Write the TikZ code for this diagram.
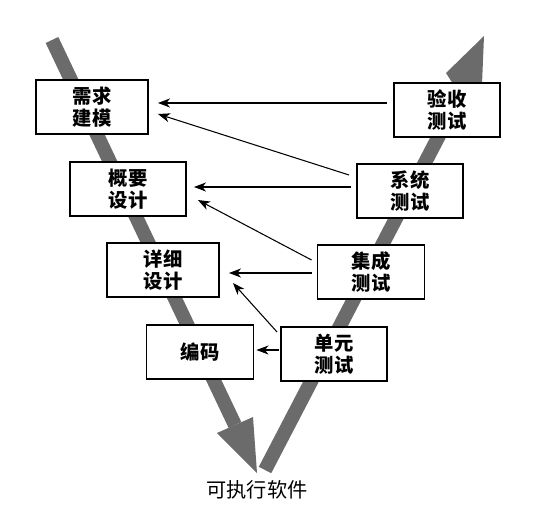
\documentclass[tikz,border=0pt]{standalone}
\usepackage{fontspec}
\setmainfont{Noto Sans CJK SC}
\usetikzlibrary{arrows.meta}
\tikzset{
  stage/.style={draw,line width=1.1pt,fill=white,minimum width=#1,minimum height=1.08cm,
    inner sep=0pt,align=center,font=\bfseries\fontsize{11pt}{12.5pt}\selectfont},
  link/.style={-{Stealth[length=0.24cm,width=0.18cm,inset=0.07cm]},line width=0.6pt},
  band/.style={line width=0.28cm,draw=black!58}
}
\begin{document}
\begin{tikzpicture}[x=0.02cm,y=-0.02cm]
\useasboundingbox (0,0) rectangle (543,527);
% gray V
\draw[band](52,40)--(235,425);
\fill[black!58](217,433)--(257,473)--(253,417)--cycle;
\draw[band](265,470)--(468,80);
\fill[black!58](484,36)--(446,73)--(453,84)--(482,84)--cycle;
% stages
\node[stage=2.24cm] (req) at (92,107) {需求\\建模};
\node[stage=2.32cm] (outline) at (128,189) {概要\\设计};
\node[stage=2.24cm] (detail) at (163,270) {详细\\设计};
\node[stage=2.14cm] (code) at (200,352) {编码};
\node[stage=2.12cm] (accept) at (447,110) {验收\\测试};
\node[stage=2.12cm] (sys) at (410,191) {系统\\测试};
\node[stage=2.14cm] (integ) at (371,272) {集成\\测试};
\node[stage=2.12cm] (unit) at (334,354) {单元\\测试};
\node[font=\fontsize{11.5pt}{13pt}\selectfont] (exe) at (257,490) {可执行软件};
% tests back to stages
\draw[link]([shift={(-6,-7)}]accept.west)--([shift={(9,-4)}]req.east);
\draw[link]([shift={(-7,-16)}]sys.west)--([shift={(9,7)}]req.east);
\draw[link]([shift={(-5,-4)}]sys.west)--([shift={(7,-2)}]outline.east);
\draw[link]([shift={(-5,-12)}]integ.west)--([shift={(11,11)}]outline.east);
\draw[link]([shift={(-5,1)}]integ.west)--([shift={(9,3)}]detail.east);
\draw[link]([shift={(-3,-22)}]unit.west)--([shift={(13,13)}]detail.east);
\draw[link]([shift={(-1,-4)}]unit.west)--([shift={(2,-2)}]code.east);
\end{tikzpicture}
\end{document}
